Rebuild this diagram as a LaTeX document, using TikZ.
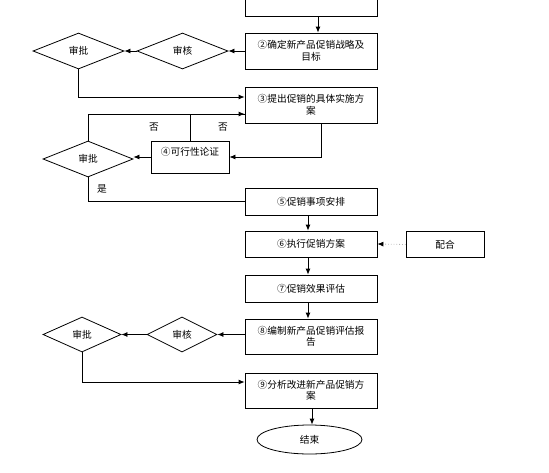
\documentclass[tikz,border=0pt]{standalone}
\usepackage{fontspec}
\setmainfont{Noto Sans CJK SC}
\usetikzlibrary{shapes.geometric,arrows.meta}
\begin{document}
\begin{tikzpicture}[x=1pt,y=-1pt,
  font=\fontsize{9.7}{11.5}\selectfont,
  line width=0.8pt,
  box/.style={draw, rectangle, minimum width=132pt, inner sep=0pt, align=center},
  dia/.style={draw, diamond, inner sep=0pt},
  arr/.style={-{Latex[length=6pt,width=5pt]}},
  lbl/.style={inner sep=0pt}]
\useasboundingbox (0,0) rectangle (549,472);
% boxes
\node[box, minimum height=36pt] (b1) at (311,-2) {};
\node[box, minimum height=36pt] (b2) at (311,51) {②确定新产品促销战略及\\目标};
\node[box, minimum height=36pt] (b3) at (311,105) {③提出促销的具体实施方\\案};
\node[box, minimum width=78pt, minimum height=32pt] (b4) at (190,157) {};
\node[lbl] (b4t) at (190,152) {④可行性论证};
\node[box, minimum height=27pt] (b5) at (311,201.5) {⑤促销事项安排};
\node[box, minimum height=26pt] (b6) at (311,244) {⑥执行促销方案};
\node[box, minimum width=78pt, minimum height=26pt] (pei) at (445,244.5) {配合};
\node[box, minimum height=27pt] (b7) at (311,288.5) {⑦促销效果评估};
\node[box, minimum height=35pt] (b8) at (311,336.5) {⑧编制新产品促销评估报\\告};
\node[box, minimum height=35pt] (b9) at (311,390.5) {⑨分析改进新产品促销方\\案};
\node[draw, ellipse, minimum width=105pt, minimum height=29pt, inner sep=0pt] (end) at (309.5,439.5) {结束};
% diamonds
\node[dia, minimum width=91pt, minimum height=36pt] (sh1) at (182.5,51) {审核};
\node[dia, minimum width=91pt, minimum height=36pt] (sp1) at (78.5,51) {审批};
\node[dia, minimum width=90pt, minimum height=36pt] (sp2) at (88,159) {审批};
\node[dia, minimum width=70pt, minimum height=35pt] (sh3) at (182,334.5) {审核};
\node[dia, minimum width=78pt, minimum height=35pt] (sp3) at (82,334.5) {审批};
% labels
\node[lbl] (no1) at (154,127) {否};
\node[lbl] (no2) at (223,127) {否};
\node[lbl] (yes) at (102,189) {是};
% connectors
\draw[arr] ([xshift=7pt]b1.south) -- ([xshift=7pt]b2.north);
\draw[arr] (b2.west) -- (sh1.east);
\draw[arr] (sh1.west) -- (sp1.east);
\draw[arr] (sp1.south) |- ([yshift=8pt]b3.west);
\draw[arr] (sp2.north) |- ([yshift=-9pt]b3.west);
\draw (b4.north) |- ([yshift=-9pt]b3.west);
\draw[arr] ([xshift=10pt]b3.south) |- (b4.east);
\draw[arr] (b4.west) -- (b4.west -| sp2.east);
\draw (sp2.south) |- (b5.west);
\draw[arr] ([xshift=-3pt]b5.south) -- ([xshift=-3pt]b6.north);
\draw[gray!60, dotted, -{Latex[length=6pt,width=5pt,color=black]}] (pei.west) -- (b6.east);
\draw[arr] ([xshift=-3pt]b6.south) -- ([xshift=-3pt]b7.north);
\draw[arr] ([xshift=-3pt]b7.south) -- ([xshift=-3pt]b8.north);
\draw[arr] ([yshift=2pt]b8.west) -- (sh3.east);
\draw[arr] (sh3.west) -- (sp3.east);
\draw[arr] (sp3.south) |- ([yshift=8.5pt]b9.west);
\draw[arr] ([xshift=1pt]b9.south) -- ([xshift=1pt]b9.south |- end.north);
\end{tikzpicture}
\end{document}
